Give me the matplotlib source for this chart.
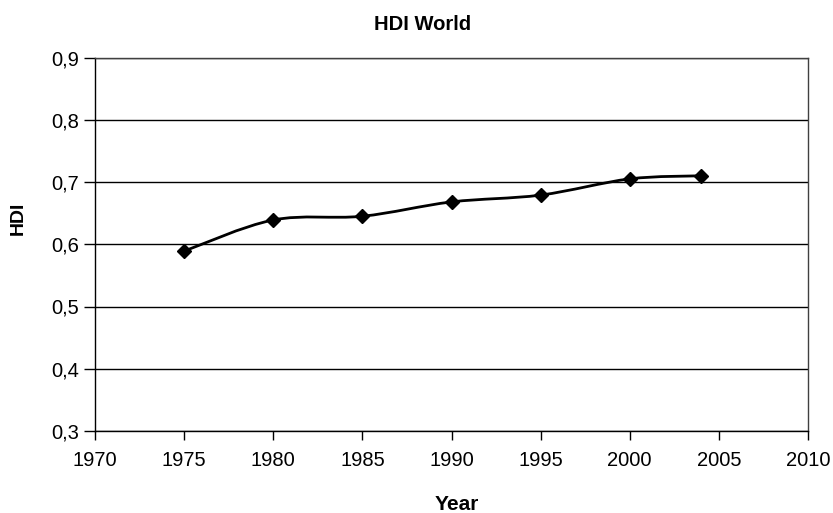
import numpy as np
import matplotlib.pyplot as plt
from matplotlib.path import Path
from matplotlib.patches import PathPatch
from matplotlib.ticker import FuncFormatter

# HDI world values by year
years = [1975, 1980, 1985, 1990, 1995, 2000, 2004]
hdi = [0.589, 0.639, 0.645, 0.668, 0.679, 0.705, 0.710]

xticks = list(range(1970, 2011, 5))
yticks = [0.3, 0.4, 0.5, 0.6, 0.7, 0.8, 0.9]

plt.rcParams['font.family'] = ['Liberation Sans', 'DejaVu Sans']

fig = plt.figure(figsize=(8.33, 5.13), dpi=100)
ax = fig.add_axes([95/833, 82/513, 713/833, 373.5/513])

# smoothed line (catmull-rom style bezier through the points)
pts = np.column_stack([years, hdi])
verts = [pts[0]]
codes = [Path.MOVETO]
n = len(pts)
for i in range(n - 1):
    p0 = pts[max(i - 1, 0)]
    p1 = pts[i]
    p2 = pts[i + 1]
    p3 = pts[min(i + 2, n - 1)]
    verts += [p1 + (p2 - p0) / 6, p2 - (p3 - p1) / 6, p2]
    codes += [Path.CURVE4] * 3
ax.add_patch(PathPatch(Path(verts, codes), facecolor='none', edgecolor='black',
                       lw=2.0, zorder=3))
ax.plot(years, hdi, linestyle='none', marker='D', ms=7, color='black', zorder=4)

ax.set_xlim(1970, 2010)
ax.set_ylim(0.3, 0.9)
ax.set_xticks(xticks)
ax.set_yticks(yticks)
ax.yaxis.set_major_formatter(FuncFormatter(lambda v, p: f"{v:.1f}".replace('.', ',')))

ax.yaxis.grid(True, color='black', lw=1.0)
ax.set_axisbelow(True)

for s in ['left', 'bottom']:
    ax.spines[s].set_color('black')
    ax.spines[s].set_linewidth(1.0)
for s in ['top', 'right']:
    ax.spines[s].set_color('#404040')
    ax.spines[s].set_linewidth(1.0)

ax.tick_params(axis='x', direction='out', length=6.2, width=1, pad=8, labelsize=14.5)
ax.tick_params(axis='y', direction='out', length=8, width=1, pad=3.6, labelsize=14.5)

fig.text(423/833, 1 - 30/513, 'HDI World', ha='center', va='baseline',
         fontsize=14.5, fontweight='bold')
fig.text(457/833, 1 - 510/513, 'Year', ha='center', va='baseline',
         fontsize=15, fontweight='bold')
fig.text(18.6/833, 1 - 218/513, 'HDI', ha='center', va='center', rotation=90,
         fontsize=14, fontweight='bold')

fig.savefig('out.png', dpi=100)
